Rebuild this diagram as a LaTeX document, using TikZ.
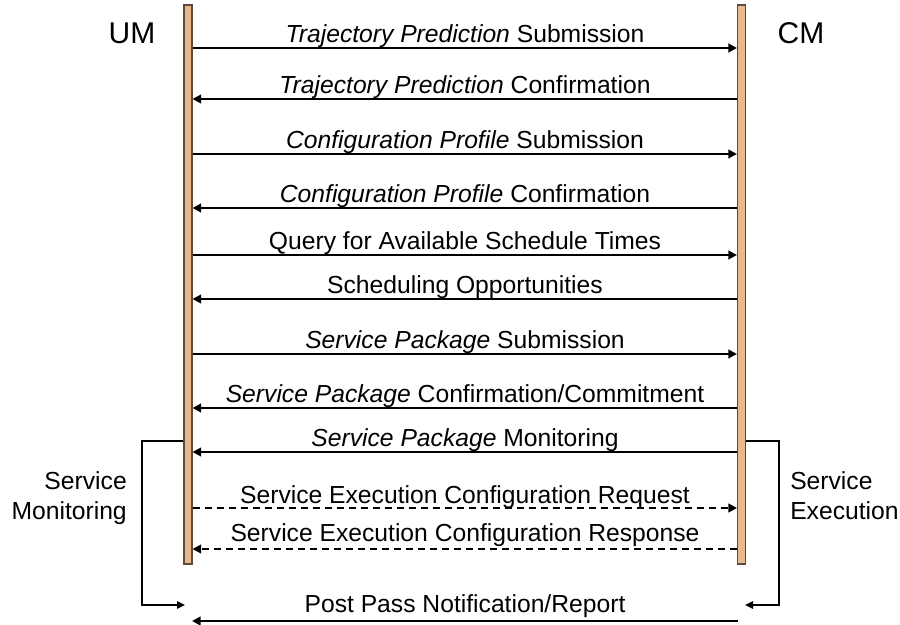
\documentclass[tikz,border=0pt]{standalone}
\usepackage{fontspec}
\setmainfont{Liberation Sans}
\usetikzlibrary{arrows.meta}
\definecolor{barfill}{HTML}{E8B98C}
\definecolor{baredge}{HTML}{5E4A38}
\tikzset{
  lifebar/.style={draw=baredge, fill=barfill, line width=0.8pt, minimum width=6pt, minimum height=419.25pt, inner sep=0pt},
  msg/.style={line width=2.1pt, -{Triangle[length=6.5pt,width=6.5pt]}},
  msgdash/.style={msg, dash pattern=on 5.5pt off 3.5pt},
  brk/.style={line width=1.5pt, -{Triangle[length=6pt,width=5.5pt]}},
  lbl/.style={anchor=base, inner sep=0pt, font=\fontsize{18.5}{22}\selectfont},
  side/.style={inner sep=0pt, font=\fontsize{18.5}{22.5}\selectfont},
  actor/.style={anchor=base, inner sep=0pt, font=\fontsize{22.5}{27}\selectfont}
}
\begin{document}
\begin{tikzpicture}[x=0.75pt,y=-0.75pt]
\useasboundingbox (0,0) rectangle (900,625);
% lifelines
\node[lifebar] (UMbar) at (188,284.5) {};
\node[lifebar] (CMbar) at (741.5,284.5) {};
\node[actor] (UM) at (132,43) {UM};
\node[actor] (CM) at (801,43) {CM};
% messages
\draw[msg] (UMbar.east |- 0,48) -- (CMbar.west |- 0,48);
\node[lbl] (l1) at (465,42.5) {\textit{Trajectory Prediction} Submission};
\draw[msg] (CMbar.west |- 0,99) -- (UMbar.east |- 0,99);
\node[lbl] (l2) at (465,93.5) {\textit{Trajectory Prediction} Confirmation};
\draw[msg] (UMbar.east |- 0,154) -- (CMbar.west |- 0,154);
\node[lbl] (l3) at (465,148.5) {\textit{Configuration Profile} Submission};
\draw[msg] (CMbar.west |- 0,208) -- (UMbar.east |- 0,208);
\node[lbl] (l4) at (465,202.5) {\textit{Configuration Profile} Confirmation};
\draw[msg] (UMbar.east |- 0,255) -- (CMbar.west |- 0,255);
\node[lbl] (l5) at (465,249.5) {Query for Available Schedule Times};
\draw[msg] (CMbar.west |- 0,299) -- (UMbar.east |- 0,299);
\node[lbl] (l6) at (465,293.5) {Scheduling Opportunities};
\draw[msg] (UMbar.east |- 0,354) -- (CMbar.west |- 0,354);
\node[lbl] (l7) at (465,348.5) {\textit{Service Package} Submission};
\draw[msg] (CMbar.west |- 0,408) -- (UMbar.east |- 0,408);
\node[lbl] (l8) at (465,402) {\textit{Service Package} Confirmation/Commitment};
\draw[msg] (CMbar.west |- 0,452) -- (UMbar.east |- 0,452);
\node[lbl] (l9) at (465,446) {\textit{Service Package} Monitoring};
\draw[msgdash] (UMbar.east |- 0,508) -- (CMbar.west |- 0,508);
\node[lbl] (l10) at (465,503) {Service Execution Configuration Request};
\draw[msgdash] (CMbar.west |- 0,549) -- (UMbar.east |- 0,549);
\node[lbl] (l11) at (465,541) {Service Execution Configuration Response};
% brackets
\coordinate (lbtip) at (185,605);
\coordinate (rbtip) at (745,605);
\draw[brk] (UMbar.west |- 0,441) -- (142,441) -- (142,605) -- (lbtip);
\draw[brk] (CMbar.east |- 0,441) -- (779,441) -- (779,605) -- (rbtip);
\node[side, align=right, anchor=north east] (smon) at (127,471) {Service\\Monitoring};
\node[side, align=left, anchor=north west] (sexe) at (790,471) {Service\\Execution};
% post pass
\coordinate (ppR) at (738,621);
\coordinate (ppL) at (192,621);
\draw[msg] (ppR) -- (ppL);
\node[lbl] (l12) at (465,612) {Post Pass Notification/Report};
\end{tikzpicture}
\end{document}
